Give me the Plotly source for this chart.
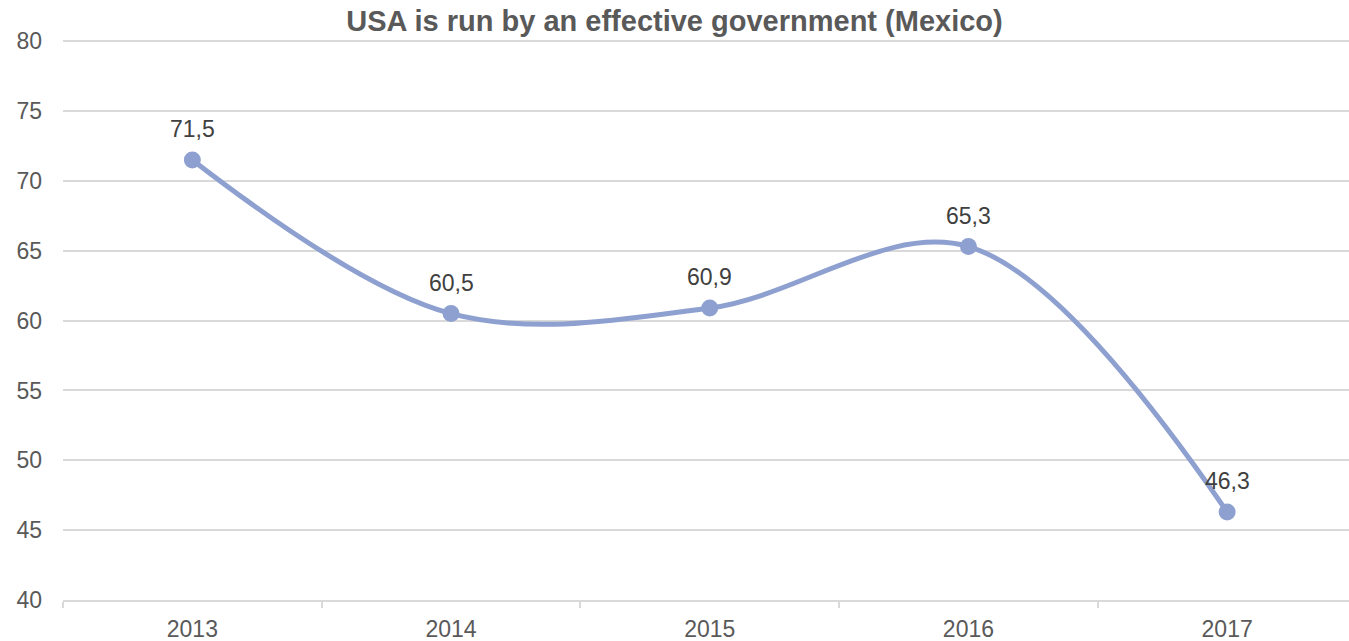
import plotly.graph_objects as go

# Survey share by year
years = ["2013", "2014", "2015", "2016", "2017"]
values = [71.5, 60.5, 60.9, 65.3, 46.3]
y_ticks = [40, 45, 50, 55, 60, 65, 70, 75, 80]

LINE_COLOR = "#8EA0CF"
GRID_COLOR = "#D9D9D9"
FONT = "Liberation Sans, Arial, sans-serif"

fig = go.Figure()
fig.add_trace(go.Scatter(
    x=years,
    y=values,
    mode="lines+markers",
    line=dict(color=LINE_COLOR, width=5, shape="spline", smoothing=1.0),
    marker=dict(color=LINE_COLOR, size=17),
    hoverinfo="x+y",
    showlegend=False,
))

# Value labels above each point, decimal comma (x given as category index)
for i, v in enumerate(values):
    fig.add_annotation(
        x=i, y=v,
        xref="x", yref="y",
        text=f"{v:.1f}".replace(".", ","),
        showarrow=False,
        xanchor="center",
        yanchor="middle",
        yshift=31,
        font=dict(family=FONT, size=23, color="#404040"),
    )

fig.update_layout(
    width=1349,
    height=641,
    margin=dict(l=63, r=0, t=37, b=41),
    paper_bgcolor="white",
    plot_bgcolor="white",
    title=dict(
        text="<b>USA is run by an effective government (Mexico)</b>",
        x=0.5, xref="container", xanchor="center",
        y=1 - 21 / 641, yref="container", yanchor="middle",
        font=dict(family=FONT, size=29, color="#595959"),
    ),
    xaxis=dict(
        type="category",
        range=[-0.5, 4.471],
        showgrid=False,
        showline=True,
        linecolor=GRID_COLOR,
        linewidth=1.5,
        ticks="outside",
        tickson="boundaries",
        ticklen=6,
        tickcolor=GRID_COLOR,
        tickwidth=1.5,
        ticklabelstandoff=8,
        tickfont=dict(family=FONT, size=23, color="#595959"),
        fixedrange=True,
    ),
    yaxis=dict(
        range=[40, 80.3],
        tickvals=y_ticks,
        showgrid=True,
        gridcolor=GRID_COLOR,
        gridwidth=1.5,
        zeroline=False,
        showline=False,
        ticks="",
        ticklabelstandoff=20,
        tickfont=dict(family=FONT, size=23, color="#595959"),
        fixedrange=True,
    ),
)

fig.write_html("out.html")
